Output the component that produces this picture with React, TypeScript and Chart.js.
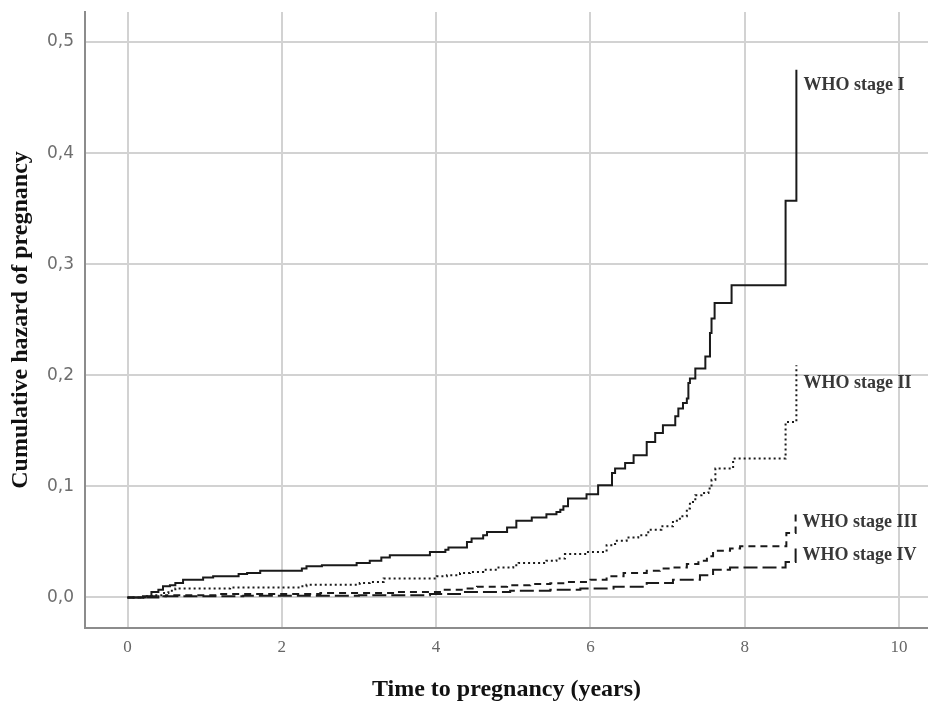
import React, { useEffect, useRef } from "react";
import { Chart, registerables } from "chart.js";

Chart.register(...registerables);

// ---- data ----
const xTickValues = [0, 2, 4, 6, 8, 10];
const yTickValues = [0, 0.1, 0.2, 0.3, 0.4, 0.5];

const seriesNames = ["WHO stage I", "WHO stage II", "WHO stage III", "WHO stage IV"];

const stage1Times = [0, 0.2, 0.31, 0.4, 0.46, 0.55, 0.62, 0.72, 0.98, 1.11, 1.44, 1.55, 1.72, 2.26, 2.32, 2.52, 2.97, 3.14, 3.29, 3.4, 3.92, 4.12, 4.16, 4.4, 4.46, 4.61, 4.66, 4.92, 5.04, 5.24, 5.43, 5.56, 5.61, 5.65, 5.71, 5.95, 6.1, 6.28, 6.32, 6.45, 6.56, 6.73, 6.84, 6.94, 7.1, 7.14, 7.2, 7.25, 7.27, 7.29, 7.36, 7.49, 7.55, 7.57, 7.61, 7.83, 8.53, 8.67];
const stage1Hazard = [0, 0.001, 0.005, 0.007, 0.01, 0.011, 0.013, 0.016, 0.018, 0.019, 0.021, 0.022, 0.024, 0.026, 0.028, 0.029, 0.031, 0.033, 0.036, 0.038, 0.041, 0.043, 0.045, 0.05, 0.053, 0.056, 0.059, 0.063, 0.069, 0.072, 0.075, 0.077, 0.079, 0.082, 0.089, 0.093, 0.101, 0.112, 0.116, 0.121, 0.128, 0.14, 0.148, 0.155, 0.163, 0.17, 0.175, 0.179, 0.193, 0.197, 0.206, 0.217, 0.238, 0.251, 0.265, 0.281, 0.357, 0.475];

const stage2Times = [0, 0.25, 0.33, 0.46, 0.53, 0.62, 1.33, 2.24, 2.32, 3.01, 3.14, 3.32, 4.01, 4.14, 4.31, 4.44, 4.61, 4.79, 5.0, 5.07, 5.43, 5.56, 5.67, 5.95, 6.21, 6.32, 6.47, 6.62, 6.75, 6.92, 7.07, 7.16, 7.25, 7.29, 7.36, 7.44, 7.53, 7.57, 7.62, 7.85, 8.53, 8.67];
const stage2Hazard = [0, 0.001, 0.002, 0.004, 0.006, 0.008, 0.009, 0.01, 0.0115, 0.013, 0.014, 0.017, 0.019, 0.02, 0.022, 0.023, 0.025, 0.027, 0.029, 0.031, 0.033, 0.035, 0.039, 0.041, 0.047, 0.051, 0.054, 0.056, 0.061, 0.064, 0.069, 0.073, 0.08, 0.086, 0.092, 0.094, 0.098, 0.106, 0.116, 0.125, 0.158, 0.209];

const stage3Times = [0, 0.3, 0.5, 1.2, 2.5, 3.5, 4.09, 4.35, 4.53, 4.92, 5.22, 5.48, 5.69, 6.0, 6.21, 6.43, 6.73, 6.9, 7.07, 7.25, 7.4, 7.51, 7.59, 7.81, 7.94, 8.54, 8.66];
const stage3Hazard = [0, 0.001, 0.002, 0.003, 0.004, 0.005, 0.007, 0.008, 0.0097, 0.011, 0.012, 0.0128, 0.014, 0.016, 0.019, 0.022, 0.024, 0.026, 0.027, 0.03, 0.033, 0.037, 0.042, 0.044, 0.046, 0.058, 0.076];

const stage4Times = [0, 0.4, 1.5, 3.0, 3.92, 4.31, 4.96, 5.48, 5.87, 6.3, 6.73, 7.07, 7.42, 7.59, 7.81, 8.53, 8.66];
const stage4Hazard = [0, 0.001, 0.0015, 0.002, 0.003, 0.005, 0.006, 0.007, 0.008, 0.0097, 0.013, 0.016, 0.02, 0.025, 0.027, 0.032, 0.046];

// ---- styles ----
const LINE_COLOR = "#1a1a1a";
const GRID_COLOR = "#d2d2d2";
const AXIS_COLOR = "#8c8c8c";
const SERIF = '"Liberation Serif", "Times New Roman", serif';
const SANS = '"DejaVu Sans", Verdana, sans-serif';
const dashes = [[], [2, 3], [7, 5], [14, 5]];
const widths = [2, 2, 2, 2];
const labelOffsets = [16, 18, 9, 9];

function toPoints(xs: number[], ys: number[]) {
  return xs.map((x, i) => ({ x, y: ys[i] }));
}

const endLabels = {
  id: "endLabels",
  afterDatasetsDraw(chart: any) {
    const ctx = chart.ctx;
    ctx.save();
    ctx.font = `bold 18px ${SERIF}`;
    ctx.fillStyle = "#383838";
    ctx.textAlign = "left";
    ctx.textBaseline = "middle";
    chart.data.datasets.forEach((ds: any, i: number) => {
      const meta = chart.getDatasetMeta(i);
      const last = meta.data[meta.data.length - 1];
      if (!last) return;
      ctx.fillText(ds.label, last.x + 7, last.y + labelOffsets[i]);
    });
    ctx.restore();
  },
};

export default function App() {
  const ref = useRef<HTMLCanvasElement | null>(null);

  useEffect(() => {
    if (!ref.current) return;
    const series = [
      toPoints(stage1Times, stage1Hazard),
      toPoints(stage2Times, stage2Hazard),
      toPoints(stage3Times, stage3Hazard),
      toPoints(stage4Times, stage4Hazard),
    ];
    const chart = new Chart(ref.current, {
      type: "line",
      data: {
        datasets: series.map((d, i) => ({
          label: seriesNames[i],
          data: d,
          stepped: "before" as any,
          borderColor: LINE_COLOR,
          borderWidth: widths[i],
          borderDash: dashes[i],
          pointRadius: 0,
          fill: false,
        })),
      },
      options: {
        animation: false,
        responsive: false,
        maintainAspectRatio: false,
        layout: { padding: { top: 12, right: 0, bottom: 0, left: 0 } },
        plugins: {
          legend: { display: false },
          tooltip: { enabled: false },
        },
        scales: {
          x: {
            type: "linear",
            min: -0.551,
            max: 10.376,
            afterBuildTicks: (s: any) => {
              s.ticks = xTickValues.map((v) => ({ value: v }));
            },
            afterFit: (s: any) => {
              s.height = 74;
              s.paddingLeft = 0;
              s.paddingRight = 0;
            },
            grid: { color: GRID_COLOR, lineWidth: 2, drawTicks: false },
            border: { display: true, color: AXIS_COLOR, width: 2 },
            ticks: {
              autoSkip: false,
              maxRotation: 0,
              padding: 9,
              color: "#666",
              font: { family: SERIF, size: 17 },
              callback: (v: any) => String(v),
            },
            title: {
              display: true,
              text: "Time to pregnancy (years)",
              color: "#111",
              font: { family: SERIF, size: 24, weight: "bold", lineHeight: 1 },
              padding: { top: 0, bottom: 0 },
            },
          },
          y: {
            type: "linear",
            min: -0.0275,
            max: 0.527,
            afterBuildTicks: (s: any) => {
              s.ticks = yTickValues.map((v) => ({ value: v }));
            },
            afterFit: (s: any) => {
              s.width = 85;
              s.paddingTop = 0;
              s.paddingBottom = 0;
            },
            grid: { color: GRID_COLOR, lineWidth: 2, drawTicks: false },
            border: { display: true, color: AXIS_COLOR, width: 2 },
            ticks: {
              padding: 11,
              color: "#6e6e6e",
              font: { family: SANS, size: 17 },
              callback: (v: any) => Number(v).toFixed(1).replace(".", ","),
            },
            title: {
              display: true,
              text: "Cumulative hazard of pregnancy",
              color: "#111",
              font: { family: SERIF, size: 24, weight: "bold", lineHeight: 1.2 },
              padding: { top: 6, bottom: 0 },
            },
          },
        },
      },
      plugins: [endLabels],
    });
    return () => chart.destroy();
  }, []);

  return (
    <div style={{ position: "absolute", left: 0, top: 0, width: 928, height: 702, background: "#fff" }}>
      <canvas ref={ref} width={928} height={702} style={{ display: "block" }} />
    </div>
  );
}
